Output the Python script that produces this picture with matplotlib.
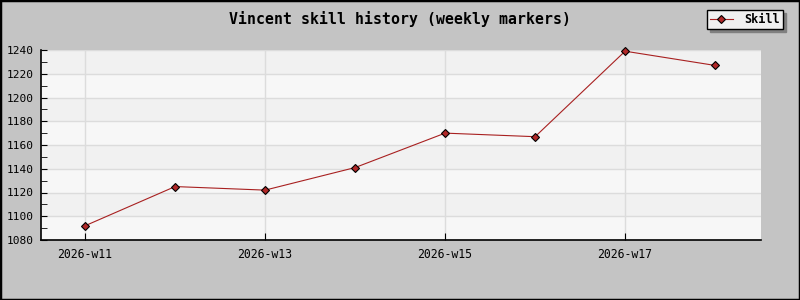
import matplotlib
matplotlib.use("Agg")
import matplotlib.pyplot as plt
from matplotlib.patches import Rectangle

weeks = [11, 12, 13, 14, 15, 16, 17, 18]
skill = [1092, 1125, 1122, 1141, 1170, 1167, 1239, 1227]
tick_weeks = [11, 13, 15, 17]
tick_labels = ["2026-w11", "2026-w13", "2026-w15", "2026-w17"]
yticks = [1080, 1100, 1120, 1140, 1160, 1180, 1200, 1220, 1240]

plt.rcParams['font.family'] = ['DejaVu Sans Mono']

fig = plt.figure(figsize=(8, 3), dpi=100, facecolor='#c4c4c4')
fig.patches.append(Rectangle((0, 0), 1, 1, transform=fig.transFigure, fill=False,
                             edgecolor='black', linewidth=2.5))
ax = fig.add_axes([41/800, 60/300, 720/800, 190/300])
ax.set_facecolor('#f7f7f7')
ax.set_xlim(10.51, 18.51)
ax.set_ylim(1080, 1240)

for i in range(len(yticks) - 1):
    if i % 2 == 1:
        ax.axhspan(yticks[i], yticks[i+1], color='#f1f1f1', zorder=0, lw=0)

ax.grid(True, color='#dcdcdc', linewidth=1)
ax.set_axisbelow(True)
ax.set_xticks(tick_weeks)
ax.set_xticklabels(tick_labels, fontsize=8.3)
ax.set_yticks(yticks)
ax.set_yticklabels([str(v) for v in yticks], fontsize=8.0)
ax.set_yticks(range(1090, 1240, 20), minor=True)
ax.tick_params(axis='y', which='both', direction='in', length=4, pad=5.5)
ax.tick_params(axis='x', direction='in', length=5, pad=6)
for s in ['top', 'right']:
    ax.spines[s].set_visible(False)
for s in ['left', 'bottom']:
    ax.spines[s].set_linewidth(1.2)

ax.plot(weeks, skill, color='#a82020', linewidth=0.8, marker='D', markersize=4.2,
        markerfacecolor='#b02828', markeredgecolor='black', markeredgewidth=0.8,
        label='Skill', clip_on=False)

fig.text(0.5, 1 - 19/300, 'Vincent skill history (weekly markers)', ha='center', va='center',
         fontsize=10.7, fontweight='bold')

leg = fig.legend(loc='upper right', bbox_to_anchor=(783/800, 1 - 10/300),
                 frameon=True, fancybox=False, shadow={'color': '#808080', 'alpha': 1},
                 prop={'weight': 'bold', 'size': 8.5}, handlelength=1.9, borderpad=0.25,
                 handletextpad=1.0, borderaxespad=0)
leg.get_frame().set_edgecolor('black')
leg.get_frame().set_facecolor('#f0f0f0')
leg.get_frame().set_linewidth(1)

fig.savefig('out.png', dpi=100, facecolor=fig.get_facecolor())
